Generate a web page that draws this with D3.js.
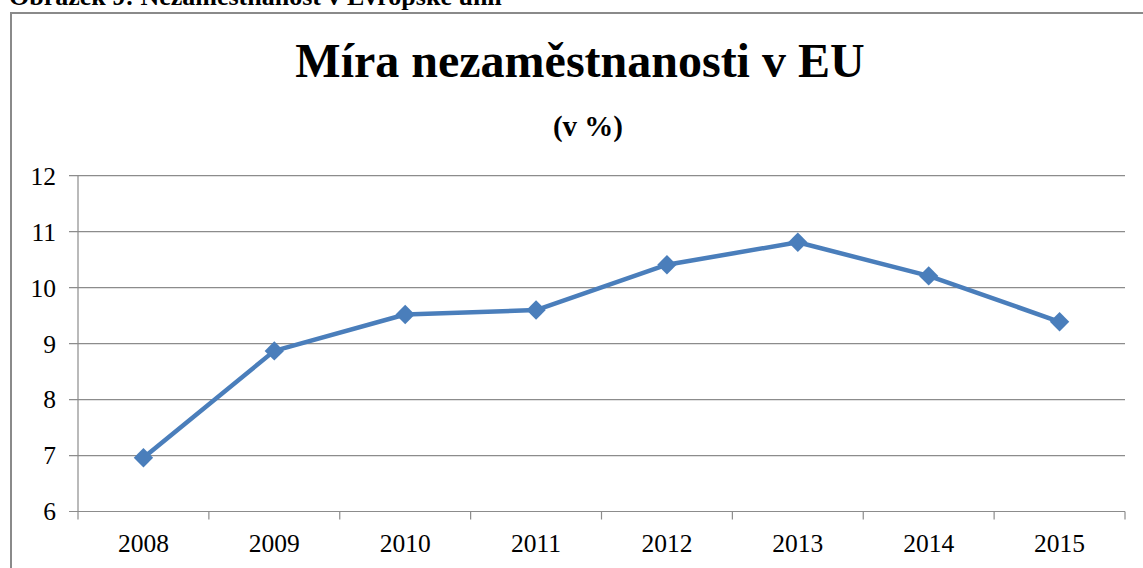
<!DOCTYPE html>
<html>
<head>
<meta charset="utf-8">
<script src="https://cdn.jsdelivr.net/npm/d3@7.9.0/dist/d3.min.js"></script>
<style>
  body { margin: 0; background: #fff; }
  svg { display: block; font-family: "Liberation Serif", "Times New Roman", serif; }
</style>
</head>
<body>
<svg id="chart" width="1143" height="568"></svg>
<script>
// data
const years = ['2008', '2009', '2010', '2011', '2012', '2013', '2014', '2015'];
const rates = [6.96, 8.87, 9.52, 9.6, 10.41, 10.81, 10.21, 9.39];
const yTicks = [6, 7, 8, 9, 10, 11, 12];

const svg = d3.select('#chart');
const BLUE = '#4a7ebb';
const GRID = '#8c8c8c';

// caption above the frame (cut off at the top, as in the source)
svg.append('text')
    .attr('x', 9)
    .attr('y', 5)
    .attr('font-size', 26)
    .attr('font-weight', 'bold')
    .text('Obrázek 9: Nezaměstnanost v Evropské unii');

// chart frame
svg.append('rect')
    .attr('x', 11)
    .attr('y', 13)
    .attr('width', 1160)
    .attr('height', 600)
    .attr('fill', 'none')
    .attr('stroke', '#8a8a8a')
    .attr('stroke-width', 2);

svg.append('text')
    .attr('x', 580)
    .attr('y', 77)
    .attr('text-anchor', 'middle')
    .attr('font-size', 48)
    .attr('font-weight', 'bold')
    .text('Míra nezaměstnanosti v EU');

svg.append('text')
    .attr('x', 588)
    .attr('y', 136)
    .attr('text-anchor', 'middle')
    .attr('font-size', 29)
    .attr('font-weight', 'bold')
    .text('(v %)');

const plotLeft = 78, plotRight = 1125, plotTop = 175.7, plotBottom = 511.5;

const x = d3.scaleBand().domain(years).range([plotLeft, plotRight]);
const y = d3.scaleLinear().domain([6, 12]).range([plotBottom, plotTop]);

// horizontal gridlines + left ticks
svg.append('g')
    .selectAll('line')
    .data(yTicks)
    .join('line')
    .attr('x1', plotLeft - 9)
    .attr('x2', plotRight)
    .attr('y1', d => y(d))
    .attr('y2', d => y(d))
    .attr('stroke', GRID)
    .attr('stroke-width', 1.2);

svg.append('g')
    .selectAll('text')
    .data(yTicks)
    .join('text')
    .attr('x', 56)
    .attr('y', d => y(d))
    .attr('dy', '0.35em')
    .attr('text-anchor', 'end')
    .attr('font-size', 25.5)
    .text(d => d);

// vertical axis
svg.append('line')
    .attr('x1', plotLeft).attr('x2', plotLeft)
    .attr('y1', plotTop).attr('y2', plotBottom + 8)
    .attr('stroke', GRID)
    .attr('stroke-width', 1.2);

// category ticks between bands
const boundaries = years.map(d => x(d)).slice(1).concat([plotRight]);
svg.append('g')
    .selectAll('line')
    .data(boundaries)
    .join('line')
    .attr('x1', d => d).attr('x2', d => d)
    .attr('y1', plotBottom).attr('y2', plotBottom + 8)
    .attr('stroke', GRID)
    .attr('stroke-width', 1.2);

svg.append('g')
    .selectAll('text')
    .data(years)
    .join('text')
    .attr('x', d => x(d) + x.bandwidth() / 2)
    .attr('y', 552)
    .attr('text-anchor', 'middle')
    .attr('font-size', 25.5)
    .text(d => d);

// series
const pts = years.map((d, i) => ({ year: d, value: rates[i] }));
const line = d3.line()
    .x(d => x(d.year) + x.bandwidth() / 2)
    .y(d => y(d.value));

svg.append('path')
    .datum(pts)
    .attr('d', line)
    .attr('fill', 'none')
    .attr('stroke', BLUE)
    .attr('stroke-width', 4.5)
    .attr('stroke-linejoin', 'round');

const diamond = d3.symbol().type(d3.symbolDiamond2).size(240);
svg.append('g')
    .selectAll('path')
    .data(pts)
    .join('path')
    .attr('transform', d => `translate(${x(d.year) + x.bandwidth() / 2},${y(d.value)})`)
    .attr('d', diamond)
    .attr('fill', BLUE);
</script>
</body>
</html>
